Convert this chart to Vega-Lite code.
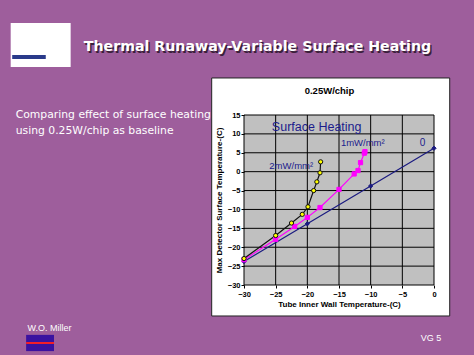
{
  "$schema": "https://vega.github.io/schema/vega-lite/v6.json",
  "width": 190,
  "height": 170,
  "autosize": {"type": "none"},
  "padding": {"left": 244, "top": 115, "right": 40, "bottom": 70},
  "background": "#9e5e9c",
  "config": {
    "view": {"stroke": null},
    "axis": {"grid": false, "domain": false, "labelOverlap": false, "labelFlush": false, "labelFont": "Liberation Sans", "labelFontWeight": "bold", "labelFontSize": 7.5, "labelColor": "#000000", "titleFont": "Liberation Sans", "titleFontSize": 8, "titleFontWeight": "bold", "titleColor": "#000000", "tickColor": "#000000", "tickSize": 3},
    "axisX": {"tickCount": 7},
    "axisY": {"tickCount": 10}
  },
  "datasets": {
    "series": [
      {"series": "0", "x": -30, "y": -23.8},
      {"series": "0", "x": -20, "y": -13.8},
      {"series": "0", "x": -10, "y": -3.8},
      {"series": "0", "x": 0, "y": 6.2},
      {"series": "1mW/mm2", "x": -30, "y": -23.3},
      {"series": "1mW/mm2", "x": -25, "y": -17.9},
      {"series": "1mW/mm2", "x": -22, "y": -14.5},
      {"series": "1mW/mm2", "x": -20, "y": -12.1},
      {"series": "1mW/mm2", "x": -18, "y": -9.5},
      {"series": "1mW/mm2", "x": -15, "y": -4.7},
      {"series": "1mW/mm2", "x": -12.6, "y": -0.6},
      {"series": "1mW/mm2", "x": -12, "y": 0.3},
      {"series": "1mW/mm2", "x": -11.6, "y": 2.4},
      {"series": "1mW/mm2", "x": -11, "y": 4.9},
      {"series": "1mW/mm2", "x": -10.9, "y": 5.3},
      {"series": "2mW/mm2", "x": -30, "y": -23.0},
      {"series": "2mW/mm2", "x": -25, "y": -16.9},
      {"series": "2mW/mm2", "x": -22.5, "y": -13.6},
      {"series": "2mW/mm2", "x": -20.8, "y": -11.3},
      {"series": "2mW/mm2", "x": -19.9, "y": -9.3},
      {"series": "2mW/mm2", "x": -19, "y": -5.0},
      {"series": "2mW/mm2", "x": -18.5, "y": -2.7},
      {"series": "2mW/mm2", "x": -18, "y": -0.3},
      {"series": "2mW/mm2", "x": -17.9, "y": 2.6}
    ],
    "gridx": [{"v": -25}, {"v": -20}, {"v": -15}, {"v": -10}, {"v": -5}],
    "gridy": [{"v": -25}, {"v": -20}, {"v": -15}, {"v": -10}, {"v": -5}, {"v": 0}, {"v": 5}, {"v": 10}]
  },
  "layer": [
    {
      "data": {"values": [{"x1": -35.1, "x2": 2.48, "y1": 24.8, "y2": -38.2}]},
      "mark": {"type": "rect", "fill": "#ffffff", "stroke": "#222222", "strokeWidth": 1, "clip": false},
      "encoding": {
        "x": {"field": "x1", "type": "quantitative", "scale": {"domain": [-30, 0], "nice": false, "zero": false}, "axis": {"zindex": 1, "values": [-30, -25, -20, -15, -10, -5, 0], "tickCount": 7, "title": "Tube Inner Wall Temperature-(C)", "titlePadding": 3, "labelPadding": 2}},
        "x2": {"field": "x2"},
        "y": {"field": "y1", "type": "quantitative", "scale": {"domain": [-30, 15], "nice": false, "zero": false}, "axis": {"zindex": 1, "values": [-30, -25, -20, -15, -10, -5, 0, 5, 10, 15], "tickCount": 10, "title": "Max Detector Surface Temperature-(C)", "titlePadding": 4, "labelPadding": 1}},
        "y2": {"field": "y2"}
      }
    },
    {
      "data": {"values": [{"x1": -30, "x2": 0, "y1": -30, "y2": 15}]},
      "mark": {"type": "rect", "fill": "#c0c0c0", "stroke": "#000000", "strokeWidth": 1},
      "encoding": {
        "x": {"field": "x1", "type": "quantitative"},
        "x2": {"field": "x2"},
        "y": {"field": "y1", "type": "quantitative"},
        "y2": {"field": "y2"}
      }
    },
    {
      "data": {"name": "gridx"},
      "mark": {"type": "rule", "color": "#000000", "strokeWidth": 1},
      "encoding": {"x": {"field": "v", "type": "quantitative"}}
    },
    {
      "data": {"name": "gridy"},
      "mark": {"type": "rule", "color": "#000000", "strokeWidth": 1},
      "encoding": {"y": {"field": "v", "type": "quantitative"}}
    },
    {
      "data": {"name": "series"},
      "mark": {"type": "line", "strokeWidth": 1.2},
      "encoding": {
        "x": {"field": "x", "type": "quantitative"},
        "y": {"field": "y", "type": "quantitative"},
        "detail": {"field": "series"},
        "stroke": {"field": "series", "type": "nominal", "scale": {"domain": ["0", "1mW/mm2", "2mW/mm2"], "range": ["#1a1a80", "#ff00ff", "#111111"]}, "legend": null}
      }
    },
    {
      "data": {"name": "series"},
      "mark": {"type": "point", "filled": false, "size": 18, "strokeWidth": 1, "opacity": 1},
      "encoding": {
        "x": {"field": "x", "type": "quantitative"},
        "y": {"field": "y", "type": "quantitative"},
        "shape": {"field": "series", "type": "nominal", "scale": {"domain": ["0", "1mW/mm2", "2mW/mm2"], "range": ["diamond", "square", "circle"]}, "legend": null},
        "fill": {"field": "series", "type": "nominal", "scale": {"domain": ["0", "1mW/mm2", "2mW/mm2"], "range": ["#1a1a80", "#ff00ff", "#ffff00"]}, "legend": null},
        "stroke": {"field": "series", "type": "nominal", "legend": null}
      }
    },
    {
      "data": {"values": [{"label": "Surface Heating", "x": -25.6, "y": 11.8}]},
      "mark": {"type": "text", "align": "left", "baseline": "middle", "font": "Liberation Sans", "fontSize": 12.5, "color": "#1c1c8c"},
      "encoding": {"x": {"field": "x", "type": "quantitative"}, "y": {"field": "y", "type": "quantitative"}, "text": {"field": "label"}}
    },
    {
      "data": {"values": [{"label": "1mW/mm²", "x": -14.7, "y": 7.6}, {"label": "2mW/mm²", "x": -26, "y": 1.5}]},
      "mark": {"type": "text", "align": "left", "baseline": "middle", "font": "Liberation Sans", "fontSize": 9.5, "color": "#1c1c8c"},
      "encoding": {"x": {"field": "x", "type": "quantitative"}, "y": {"field": "y", "type": "quantitative"}, "text": {"field": "label"}}
    },
    {
      "data": {"values": [{"label": "0", "x": -1.8, "y": 7.6}]},
      "mark": {"type": "text", "align": "center", "baseline": "middle", "font": "Liberation Sans", "fontSize": 10, "color": "#1c1c8c"},
      "encoding": {"x": {"field": "x", "type": "quantitative"}, "y": {"field": "y", "type": "quantitative"}, "text": {"field": "label"}}
    },
    {
      "data": {"values": [{"label": "0.25W/chip", "x": -16.5, "y": 21.4}]},
      "mark": {"type": "text", "align": "center", "baseline": "middle", "font": "Liberation Sans", "fontSize": 9.5, "fontWeight": "bold", "color": "#000000", "clip": false},
      "encoding": {"x": {"field": "x", "type": "quantitative"}, "y": {"field": "y", "type": "quantitative"}, "text": {"field": "label"}}
    },
    {
      "data": {"values": [{"x1": -66.84, "x2": -57.37, "y1": 39.35, "y2": 27.7}]},
      "mark": {"type": "rect", "fill": "#ffffff", "clip": false},
      "encoding": {"x": {"field": "x1", "type": "quantitative"}, "x2": {"field": "x2"}, "y": {"field": "y1", "type": "quantitative"}, "y2": {"field": "y2"}}
    },
    {
      "data": {"values": [{"x1": -66.6, "x2": -61.3, "y1": 30.9, "y2": 29.8}]},
      "mark": {"type": "rect", "fill": "#2a3a8a", "clip": false},
      "encoding": {"x": {"field": "x1", "type": "quantitative"}, "x2": {"field": "x2"}, "y": {"field": "y1", "type": "quantitative"}, "y2": {"field": "y2"}}
    },
    {
      "data": {"values": [{"x1": -64.4, "x2": -60.0, "y1": -43.2, "y2": -47.5}]},
      "mark": {"type": "rect", "fill": "#3a12a0", "clip": false},
      "encoding": {"x": {"field": "x1", "type": "quantitative"}, "x2": {"field": "x2"}, "y": {"field": "y1", "type": "quantitative"}, "y2": {"field": "y2"}}
    },
    {
      "data": {"values": [{"x1": -64.4, "x2": -60.0, "y1": -45.1, "y2": -45.6}]},
      "mark": {"type": "rect", "fill": "#ff2020", "clip": false},
      "encoding": {"x": {"field": "x1", "type": "quantitative"}, "x2": {"field": "x2"}, "y": {"field": "y1", "type": "quantitative"}, "y2": {"field": "y2"}}
    },
    {
      "data": {"values": [{"label": "Thermal Runaway-Variable Surface Heating", "x": -55.3, "y": 33.0}]},
      "mark": {"type": "text", "align": "left", "baseline": "middle", "font": "DejaVu Sans", "fontSize": 14.2, "fontWeight": "bold", "color": "#3a203a", "dx": 1.5, "dy": 1.5, "clip": false},
      "encoding": {"x": {"field": "x", "type": "quantitative"}, "y": {"field": "y", "type": "quantitative"}, "text": {"field": "label"}}
    },
    {
      "data": {"values": [{"label": "Thermal Runaway-Variable Surface Heating", "x": -55.3, "y": 33.0}]},
      "mark": {"type": "text", "align": "left", "baseline": "middle", "font": "DejaVu Sans", "fontSize": 14.2, "fontWeight": "bold", "color": "#ffffff", "clip": false},
      "encoding": {"x": {"field": "x", "type": "quantitative"}, "y": {"field": "y", "type": "quantitative"}, "text": {"field": "label"}}
    },
    {
      "data": {"values": [{"label": "Comparing effect of surface heating", "x": -66.05, "y": 15}, {"label": "using 0.25W/chip as baseline", "x": -66.05, "y": 10.76}]},
      "mark": {"type": "text", "align": "left", "baseline": "middle", "font": "DejaVu Sans", "fontSize": 10.8, "color": "#ffffff", "clip": false},
      "encoding": {"x": {"field": "x", "type": "quantitative"}, "y": {"field": "y", "type": "quantitative"}, "text": {"field": "label"}}
    },
    {
      "data": {"values": [{"label": "W.O. Miller", "x": -64.2, "y": -41.4}, {"label": "VG 5", "x": -2.1, "y": -44.0}]},
      "mark": {"type": "text", "align": "left", "baseline": "middle", "font": "Liberation Sans", "fontSize": 9, "color": "#ffffff", "clip": false},
      "encoding": {"x": {"field": "x", "type": "quantitative"}, "y": {"field": "y", "type": "quantitative"}, "text": {"field": "label"}}
    }
  ]
}
